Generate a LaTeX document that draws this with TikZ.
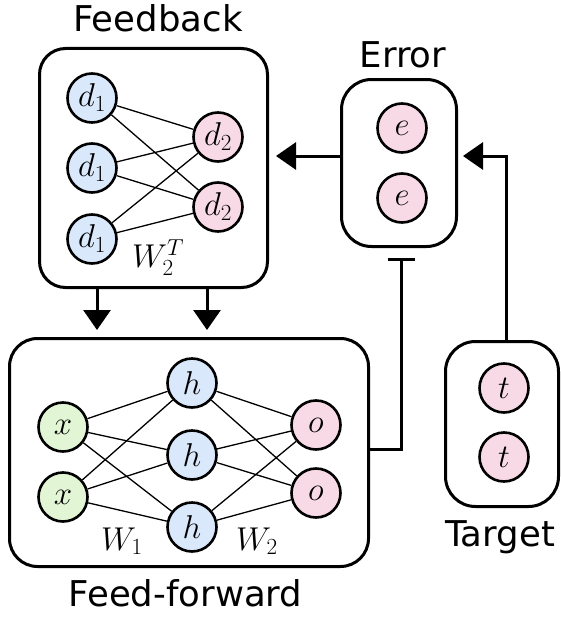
\RequirePackage{fix-cm}
\documentclass[tikz,border=0pt]{standalone}
\usepackage[no-math]{fontspec}
\setmainfont{DejaVu Sans}
\usetikzlibrary{arrows.meta}
\definecolor{nblue}{HTML}{DAE8FC}
\definecolor{npink}{HTML}{F7DAE5}
\definecolor{ngreen}{HTML}{E2F6D5}
\begin{document}
\begin{tikzpicture}[x=1pt,y=-1pt, font=\fontsize{33}{40}\selectfont,
  box/.style={draw, line width=3pt, rounded corners=26pt, inner sep=0pt},
  neu/.style={circle, draw, line width=2.6pt, minimum size=49pt, inner sep=0pt},
  blu/.style={neu, fill=nblue},
  pnk/.style={neu, fill=npink},
  grn/.style={neu, fill=ngreen},
  wire/.style={line width=1.3pt},
  arr/.style={line width=3pt, -{Triangle[length=20pt,width=27pt]}},
  lab/.style={anchor=base, inner sep=0pt, font=\fontsize{35.5}{42}\selectfont},
  wlab/.style={anchor=base west, inner sep=0pt}]
\useasboundingbox (0,0) rectangle (561,618);
% boxes
\node[box, minimum width=228pt, minimum height=239pt] (fb) at (153.5,168) {};
\node[box, minimum width=115pt, minimum height=167pt, rounded corners=30pt] (err) at (399,163) {};
\node[box, minimum width=359pt, minimum height=228pt, rounded corners=28pt] (ff) at (189,452.5) {};
\node[box, minimum width=113pt, minimum height=165pt, rounded corners=30pt] (tgt) at (502,424) {};
% labels
\node[lab] (lfb) at (158,32) {Feedback};
\node[lab] (lerr) at (403,67) {Error};
\node[lab] (ltgt) at (500,546) {Target};
\node[lab] (lff) at (185.5,606) {Feed-forward};
% feedback nodes
\node[blu] (d1a) at (92,98) {$d_1$};
\node[blu] (d1b) at (92,168) {$d_1$};
\node[blu] (d1c) at (92,239) {$d_1$};
\node[pnk] (d2a) at (218,137) {$d_2$};
\node[pnk] (d2b) at (218,207) {$d_2$};
\node[wlab] (w2t) at (132,267) {$W_2^T$};
\foreach \a in {d1a,d1b,d1c}{\foreach \b in {d2a,d2b}{\draw[wire] (\a) -- (\b);}}
% error nodes
\node[pnk] (e1) at (402,128) {$e$};
\node[pnk] (e2) at (402,198) {$e$};
% target nodes
\node[pnk] (t1) at (504,388) {$t$};
\node[pnk] (t2) at (504,457) {$t$};
% feed-forward nodes
\node[grn] (x1) at (63,427) {$x$};
\node[grn] (x2) at (63,497) {$x$};
\node[blu] (h1) at (192,383) {$h$};
\node[blu] (h2) at (192,455) {$h$};
\node[blu] (h3) at (192,527) {$h$};
\node[pnk] (o1) at (316,425) {$o$};
\node[pnk] (o2) at (316,493) {$o$};
\node[wlab] (w1) at (101,550) {$W_1$};
\node[wlab] (w2) at (236,550) {$W_2$};
\foreach \a in {x1,x2}{\foreach \b in {h1,h2,h3}{\draw[wire] (\a) -- (\b);}}
\foreach \a in {h1,h2,h3}{\foreach \b in {o1,o2}{\draw[wire] (\a) -- (\b);}}
% connectors
\coordinate (ya) at (0,156);
\coordinate (yb) at (0,449);
\coordinate (xa) at (97,0);
\coordinate (xb) at (207,0);
\draw[arr, shorten >=7pt] (err.west |- ya) -- (fb.east |- ya);
\draw[arr, shorten >=5pt] ([xshift=4pt]tgt.north) |- (err.east |- ya);
\draw[line width=3pt, -{Bar[width=27pt]}, shorten >=10pt] (ff.east |- yb) -| ([xshift=2pt]err.south);
\draw[arr, shorten >=7pt] (xa |- fb.south) -- (xa |- ff.north);
\draw[arr, shorten >=7pt] (xb |- fb.south) -- (xb |- ff.north);
\end{tikzpicture}
\end{document}
